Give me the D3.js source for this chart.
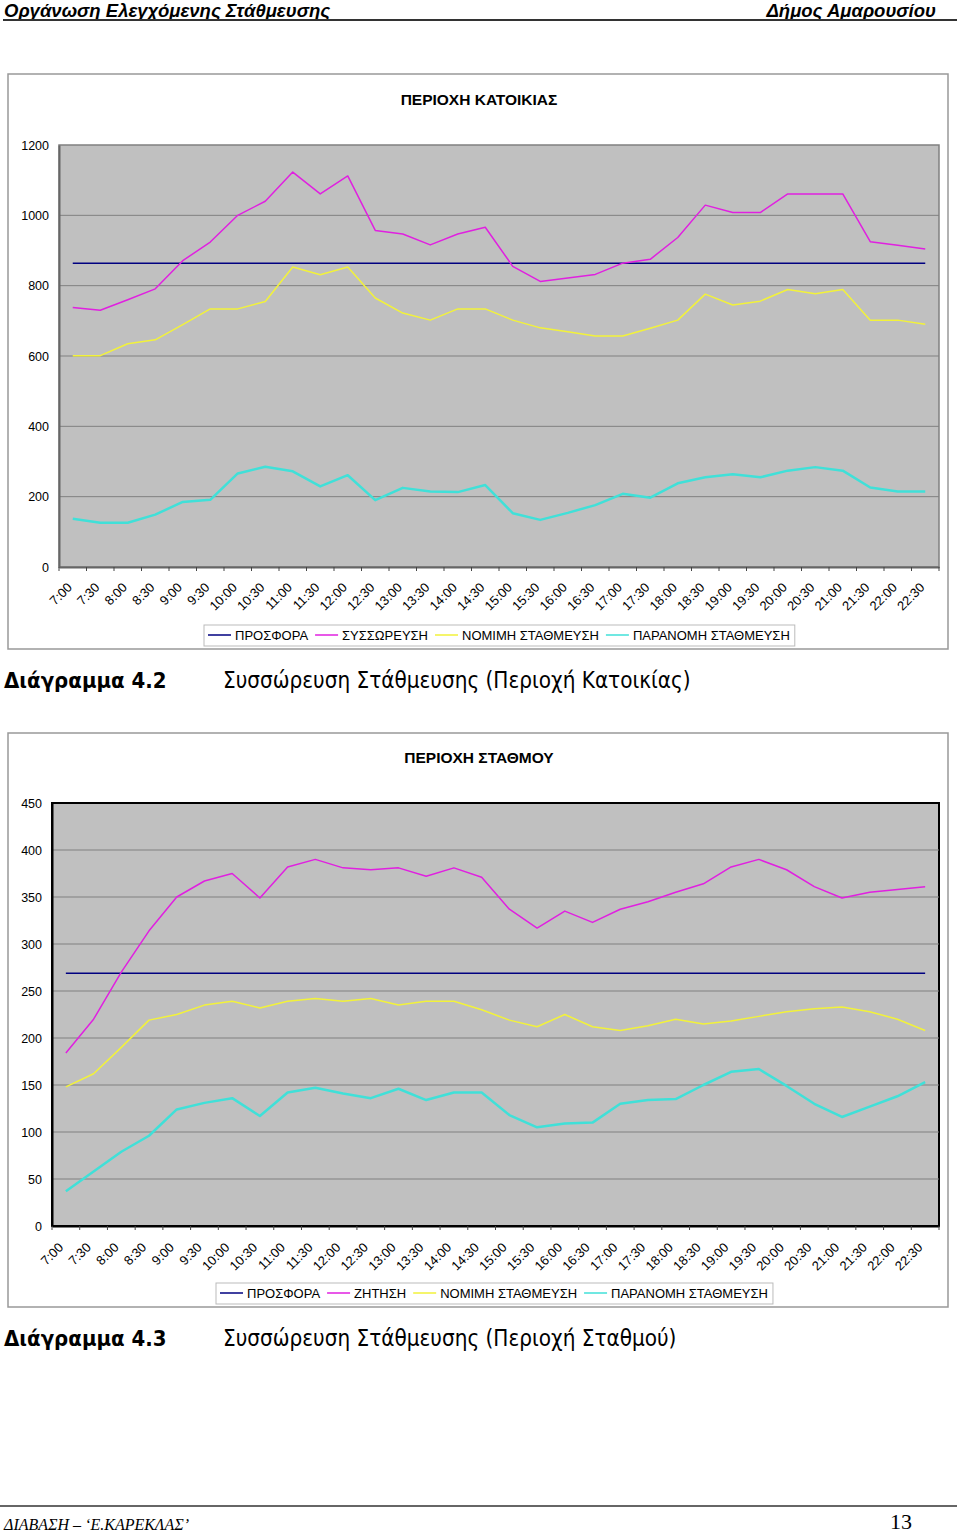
<!DOCTYPE html>
<html>
<head>
<meta charset="utf-8">
<script src="https://cdn.jsdelivr.net/npm/d3@7"></script>
<style>
  body { margin: 0; background: #fff; }
  text { font-family: "Liberation Sans", Arial, sans-serif; }
</style>
</head>
<body>
<svg id="page" width="960" height="1534"></svg>
<script>
const times = ["7:00","7:30","8:00","8:30","9:00","9:30","10:00","10:30","11:00","11:30",
  "12:00","12:30","13:00","13:30","14:00","14:30","15:00","15:30","16:00","16:30",
  "17:00","17:30","18:00","18:30","19:00","19:30","20:00","20:30","21:00","21:30","22:00","22:30"];

// chart 4.2 - residential area
const supply1 = times.map(() => 864);
const demand1 = [738,730,760,791,871,924,1000,1040,1123,1061,1112,957,947,916,947,966,
  855,812,822,832,864,875,937,1029,1008,1008,1061,1061,1061,925,915,904];
const legal1 = [601,601,635,646,689,734,734,755,853,831,853,765,722,702,734,734,
  702,680,669,657,657,679,702,776,745,756,789,777,789,702,702,690];
const illegal1 = [137,126,126,149,185,191,266,285,272,229,261,190,225,215,213,233,
  153,134,154,176,208,197,238,255,264,255,274,284,274,226,215,215];
const yTicks1 = [0,200,400,600,800,1000,1200];

// chart 4.3 - station area
const supply2 = times.map(() => 269);
const demand2 = [184,220,270,314,350,367,375,349,382,390,381,379,381,372,381,371,
  337,317,335,323,337,345,355,364,382,390,379,361,349,355,358,361];
const legal2 = [148,162,190,219,225,235,239,232,239,242,239,242,235,239,239,230,
  219,212,225,212,208,213,220,215,218,223,228,231,233,228,220,208];
const illegal2 = [37,58,79,96,124,131,136,117,142,147,141,136,146,134,142,142,
  118,105,109,110,130,134,135,150,164,167,149,130,116,127,138,153];
const yTicks2 = [0,50,100,150,200,250,300,350,400,450];

const colors = { supply: "#000080", demand: "#e020e0", legal: "#f2f23a", illegal: "#40e0d8" };

const svg = d3.select("#page");

// page header
svg.append("text").attr("x", 4).attr("y", 17)
  .style("font-size", "18.5px").style("font-weight", "bold").style("font-style", "italic")
  .text("Οργάνωση Ελεγχόμενης Στάθμευσης");
svg.append("text").attr("x", 936).attr("y", 17).attr("text-anchor", "end")
  .style("font-size", "18.5px").style("font-weight", "bold").style("font-style", "italic")
  .text("Δήμος Αμαρουσίου");
svg.append("line").attr("x1", 3).attr("x2", 957).attr("y1", 20).attr("y2", 20)
  .attr("stroke", "#333").attr("stroke-width", 2);

function drawChart(cfg) {
  const g = svg.append("g");

  // outer frame
  g.append("rect").attr("x", cfg.frame[0]).attr("y", cfg.frame[1])
    .attr("width", cfg.frame[2] - cfg.frame[0]).attr("height", cfg.frame[3] - cfg.frame[1])
    .attr("fill", "#fff").attr("stroke", "#999").attr("stroke-width", 1.5);

  g.append("text").attr("x", 479).attr("y", cfg.titleY).attr("text-anchor", "middle")
    .style("font-size", "15.5px").style("font-weight", "bold").text(cfg.title);

  const x = d3.scaleBand().domain(times).range([cfg.left, cfg.right]);
  const y = d3.scaleLinear().domain(cfg.domain).range([cfg.bottom, cfg.top]);
  const cx = d => x(d) + x.bandwidth() / 2;

  // plot area
  g.append("rect").attr("x", cfg.left).attr("y", cfg.top)
    .attr("width", cfg.right - cfg.left).attr("height", cfg.bottom - cfg.top)
    .attr("fill", "#c0c0c0").attr("stroke", cfg.plotStroke).attr("stroke-width", cfg.plotStrokeW);

  // gridlines
  g.append("g").selectAll("line").data(cfg.ticks.slice(1, -1)).join("line")
    .attr("x1", cfg.left).attr("x2", cfg.right)
    .attr("y1", d => y(d)).attr("y2", d => y(d))
    .attr("stroke", "#808080").attr("stroke-width", 1);

  // y axis
  const yAxis = g.append("g").attr("transform", `translate(${cfg.left},0)`)
    .call(d3.axisLeft(y).tickValues(cfg.ticks).tickFormat(d3.format("d")).tickSize(0).tickPadding(cfg.yPad));
  yAxis.select(".domain").attr("stroke", cfg.axisStroke).attr("stroke-width", 2);
  yAxis.selectAll("text").style("font-size", "12.5px").style("font-family", "Liberation Sans, Arial, sans-serif");

  // x axis with ticks between categories
  const xAxis = g.append("g").attr("transform", `translate(0,${cfg.bottom})`)
    .call(d3.axisBottom(x).tickSize(0).tickPadding(0));
  xAxis.select(".domain").attr("stroke", cfg.axisStroke).attr("stroke-width", 2);
  xAxis.selectAll(".tick text")
    .style("font-size", "13px").style("font-family", "Liberation Sans, Arial, sans-serif")
    .attr("text-anchor", "end").attr("dy", "0.35em")
    .attr("transform", cfg.labelShift + " rotate(-45)");
  g.append("g").selectAll("line").data(times.concat([null])).join("line")
    .attr("x1", d => d === null ? cfg.right : x(d)).attr("x2", d => d === null ? cfg.right : x(d))
    .attr("y1", cfg.bottom).attr("y2", cfg.bottom + 4)
    .attr("stroke", "#444");

  // series
  const line = d3.line().x((d, i) => cx(times[i])).y(d => y(d));
  cfg.series.forEach(s => {
    g.append("path").datum(s.values).attr("d", line)
      .attr("fill", "none").attr("stroke", s.color).attr("stroke-width", s.width)
      .attr("stroke-linejoin", "round");
  });

  // legend
  const lg = g.append("g");
  const box = lg.append("rect").attr("fill", "#fff").attr("stroke", "#bbb");
  let lx = cfg.legendX + 4;
  const ly = cfg.legendY;
  cfg.series.forEach(s => {
    lg.append("line").attr("x1", lx).attr("x2", lx + 23).attr("y1", ly).attr("y2", ly)
      .attr("stroke", s.color).attr("stroke-width", 1.5);
    const t = lg.append("text").attr("x", lx + 27).attr("y", ly + 4.5)
      .style("font-size", "13px").text(s.name);
    lx += 27 + t.node().getComputedTextLength() + 7;
  });
  box.attr("x", cfg.legendX).attr("y", ly - 10).attr("width", lx - cfg.legendX - 2).attr("height", 21);
}

drawChart({
  frame: [8, 74, 948, 649], title: "ΠΕΡΙΟΧΗ ΚΑΤΟΙΚΙΑΣ", titleY: 105,
  left: 59, right: 939, top: 145, bottom: 567, domain: [0, 1200], ticks: yTicks1, yPad: 10,
  plotStroke: "#808080", plotStrokeW: 1.5, axisStroke: "#666", labelShift: "translate(-3,18)",
  legendX: 204, legendY: 635,
  series: [
    { name: "ΠΡΟΣΦΟΡΑ", values: supply1, color: colors.supply, width: 1.5 },
    { name: "ΣΥΣΣΩΡΕΥΣΗ", values: demand1, color: colors.demand, width: 1.5 },
    { name: "ΝΟΜΙΜΗ ΣΤΑΘΜΕΥΣΗ", values: legal1, color: colors.legal, width: 1.5 },
    { name: "ΠΑΡΑΝΟΜΗ ΣΤΑΘΜΕΥΣΗ", values: illegal1, color: colors.illegal, width: 2.5 }
  ]
});

drawChart({
  frame: [8, 733, 948, 1307], title: "ΠΕΡΙΟΧΗ ΣΤΑΘΜΟΥ", titleY: 763,
  left: 52, right: 939, top: 803, bottom: 1226, domain: [0, 450], ticks: yTicks2, yPad: 10,
  plotStroke: "#000", plotStrokeW: 2, axisStroke: "#000", labelShift: "translate(-5,19)",
  legendX: 216, legendY: 1293,
  series: [
    { name: "ΠΡΟΣΦΟΡΑ", values: supply2, color: colors.supply, width: 1.5 },
    { name: "ΖΗΤΗΣΗ", values: demand2, color: colors.demand, width: 1.5 },
    { name: "ΝΟΜΙΜΗ ΣΤΑΘΜΕΥΣΗ", values: legal2, color: colors.legal, width: 1.5 },
    { name: "ΠΑΡΑΝΟΜΗ ΣΤΑΘΜΕΥΣΗ", values: illegal2, color: colors.illegal, width: 2.5 }
  ]
});

// captions
function caption(yPos, num, textStr) {
  svg.append("text").attr("x", 4).attr("y", yPos)
    .style("font-family", "DejaVu Sans Condensed, DejaVu Sans, sans-serif")
    .style("font-size", "22px").style("font-weight", "bold").text(num);
  svg.append("text").attr("x", 223).attr("y", yPos)
    .style("font-family", "DejaVu Sans Condensed, DejaVu Sans, sans-serif")
    .style("font-size", "22.3px").text(textStr);
}
caption(688, "Διάγραμμα 4.2", "Συσσώρευση Στάθμευσης (Περιοχή Κατοικίας)");
caption(1346, "Διάγραμμα 4.3", "Συσσώρευση Στάθμευσης (Περιοχή Σταθμού)");

// footer
svg.append("line").attr("x1", 0).attr("x2", 957).attr("y1", 1506).attr("y2", 1506)
  .attr("stroke", "#333").attr("stroke-width", 1.5);
svg.append("text").attr("x", 4).attr("y", 1530)
  .style("font-family", "Liberation Serif, serif").style("font-style", "italic").style("font-size", "16px")
  .text("ΔΙΑΒΑΣΗ – ‘Ε.ΚΑΡΕΚΛΑΣ’");
svg.append("text").attr("x", 912).attr("y", 1529).attr("text-anchor", "end")
  .style("font-family", "Liberation Serif, serif").style("font-size", "22px")
  .text("13");
</script>
</body>
</html>
